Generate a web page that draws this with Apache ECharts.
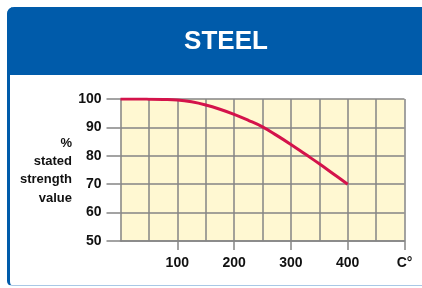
<!DOCTYPE html>
<html>
<head>
<meta charset="utf-8">
<script src="https://cdn.jsdelivr.net/npm/echarts@6/dist/echarts.min.js"></script>
<style>
  html, body { margin: 0; padding: 0; background: #fff; }
  #wrap { position: relative; width: 422px; height: 288px; overflow: hidden; }
  #card {
    position: absolute; left: 7px; top: 7px; width: 430px; height: 279px;
    border-left: 3px solid #005baa; border-bottom: 1px solid #a9c8e6;
    border-radius: 7px 0 0 5px; box-sizing: border-box;
  }
  #head {
    position: absolute; left: 7px; top: 7px; width: 430px; height: 68px;
    background: #005baa; border-radius: 7px 0 0 0;
  }
  #main { position: absolute; left: 0; top: 0; width: 422px; height: 288px; }
</style>
</head>
<body>
<div id="wrap">
  <div id="card"></div>
  <div id="head"></div>
  <div id="main"></div>
</div>
<script>
// temperature (°C) vs % of stated strength
var temps = [0, 25, 50, 75, 100, 125, 150, 175, 200, 225, 250, 275, 300, 325, 350, 375, 400];
var strength = [100, 100, 99.95, 99.85, 99.65, 99.0, 97.9, 96.4, 94.6, 92.5, 90.2, 87.2, 84.0, 80.6, 77.2, 73.6, 70];
var xTicks = [100, 200, 300, 400, 500];
var yTicks = [50, 60, 70, 80, 90, 100];

var font = '"Liberation Sans", Arial, sans-serif';
var gridGray = '#858585';

var chart = echarts.init(document.getElementById('main'));
var option = {
  animation: false,
  title: {
    text: 'STEEL',
    left: 221, top: 24, textAlign: 'center',
    textStyle: { color: '#fff', fontSize: 26, fontWeight: 'bold', fontFamily: font }
  },
  graphic: [{
    type: 'text',
    x: 72, y: 134,
    style: {
      text: '%\nstated\nstrength\nvalue',
      align: 'right',
      verticalAlign: 'top',
      font: 'bold 13px ' + font,
      lineHeight: 18.3,
      fill: '#111'
    }
  }],
  grid: {
    left: 120.5, right: 17.5, top: 99, bottom: 47,
    show: true, backgroundColor: '#fff8d2', borderWidth: 0
  },
  xAxis: {
    type: 'value', min: 0, max: 500, interval: 100,
    axisLine: { show: true, lineStyle: { color: gridGray, width: 1.5 } },
    axisTick: { show: true, length: 9, customValues: xTicks, lineStyle: { color: gridGray, width: 1.5 } },
    axisLabel: {
      customValues: xTicks, margin: 15,
      formatter: function (v) { return v === 500 ? 'C°' : String(v); },
      color: '#111', fontWeight: 'bold', fontSize: 14, fontFamily: font
    },
    splitLine: { show: true, lineStyle: { color: gridGray, width: 1.5 } },
    minorTick: { show: false, splitNumber: 2 },
    minorSplitLine: { show: true, lineStyle: { color: gridGray, width: 1.5 } }
  },
  yAxis: {
    type: 'value', min: 50, max: 100, interval: 10,
    axisLine: { show: true, lineStyle: { color: gridGray, width: 1.5 } },
    axisTick: { show: true, length: 14, customValues: yTicks, lineStyle: { color: gridGray, width: 1.5 } },
    axisLabel: {
      customValues: yTicks, margin: 19,
      color: '#111', fontWeight: 'bold', fontSize: 14, fontFamily: font
    },
    splitLine: { show: true, lineStyle: { color: gridGray, width: 1.5 } }
  },
  series: [{
    type: 'line',
    data: temps.map(function (t, i) { return [t, strength[i]]; }),
    smooth: 0.4,
    showSymbol: false,
    lineStyle: { color: '#d4134b', width: 3 },
    z: 5
  }]
};
chart.setOption(option);
</script>
</body>
</html>
